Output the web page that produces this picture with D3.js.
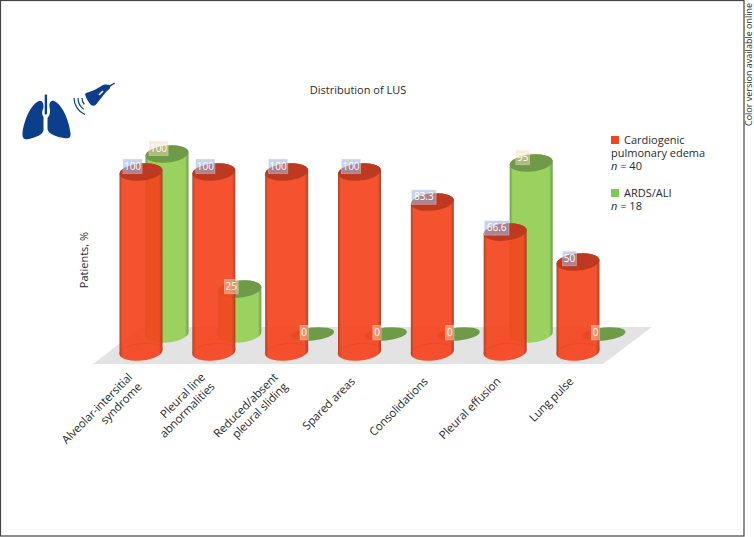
<!DOCTYPE html>
<html>
<head>
<meta charset="utf-8">
<script src="https://cdn.jsdelivr.net/npm/d3@7"></script>
<style>
  html, body { margin: 0; padding: 0; background: #fff; }
  text { font-family: "Open Sans", "Noto Sans", sans-serif; fill: #2b2b2b; }
</style>
</head>
<body>
<script>
const categories = [
  ["Alveolar-intersitial", "syndrome"],
  ["Pleural line", "abnormalities"],
  ["Reduced/absent", "pleural sliding"],
  ["Spared areas"],
  ["Consolidations"],
  ["Pleural effusion"],
  ["Lung pulse"]
];
const cardiogenic = [100, 100, 100, 100, 83.3, 66.6, 50];
const ards = [100, 25, 0, 0, 0, 95, 0];
const cardiogenicLabels = ["100", "100", "100", "100", "83.3", "66.6", "50"];
const ardsLabels = ["100", "25", "0", "0", "0", "95", "0"];
const legendCardiogenic = ["Cardiogenic", "pulmonary edema", "n = 40"];
const legendArds = ["ARDS/ALI", "n = 18"];

const width = 754;
const height = 537;

const svg = d3.select("body")
  .append("svg")
  .attr("width", width)
  .attr("height", height)
  .style("display", "block");

// Shading across the cylinders
const defs = svg.append("defs");
function addGradient(id, edge, mid) {
  const grad = defs.append("linearGradient").attr("id", id);
  grad.append("stop").attr("offset", "0%").attr("stop-color", edge);
  grad.append("stop").attr("offset", "7%").attr("stop-color", mid);
  grad.append("stop").attr("offset", "92%").attr("stop-color", mid);
  grad.append("stop").attr("offset", "100%").attr("stop-color", edge);
}
addGradient("red-body", "#a83218", "#f5431d");
addGradient("green-body", "#6f9a48", "#9ad15f");

// Scales
const x = d3.scalePoint()
  .domain(d3.range(categories.length))
  .range([141, 578]);
const yRed = d3.scaleLinear().domain([0, 100]).range([352, 172]);
const yGreen = d3.scaleLinear().domain([0, 100]).range([334, 154]);
const labelOffset = d3.scaleLinear().domain([0, 100]).range([-1.5, -6]);

const rx = 21.5;
const ry = 8.5;
const greenShift = 26;
// the ellipses lean up to the right
const tilt = -6;
const tiltDy = rx * Math.sin(tilt * Math.PI / 180);

// Frame
svg.append("rect")
  .attr("x", 0.5).attr("y", 0.5)
  .attr("width", 743.5).attr("height", 535.5)
  .attr("fill", "none")
  .attr("stroke", "#444")
  .attr("stroke-width", 1.2);

// Floor
svg.append("path")
  .attr("d", "M93,364 L141,327 L652,327 L603,364 Z")
  .attr("fill", "#e3e3e3");

function cylinderPath(cx, top, bottom) {
  const arc = " A" + rx + "," + ry + " " + tilt + " 0 0 ";
  return "M" + (cx - rx) + "," + (top - tiltDy) +
    " L" + (cx - rx) + "," + (bottom - tiltDy) +
    arc + (cx + rx) + "," + (bottom + tiltDy) +
    " L" + (cx + rx) + "," + (top + tiltDy) +
    arc + (cx - rx) + "," + (top - tiltDy) + " Z";
}

function drawSeries(values, y, shift, body, topColor, opacity) {
  const g = svg.append("g");
  values.forEach((v, i) => {
    const cx = x(i) + shift;
    if (v > 0) {
      g.append("path")
        .attr("d", cylinderPath(cx, y(v), y(0)))
        .attr("fill", "url(#" + body + ")")
        .attr("opacity", opacity);
    }
    g.append("ellipse")
      .attr("cx", cx)
      .attr("cy", y(v))
      .attr("rx", rx)
      .attr("ry", v > 0 ? ry : 6.5)
      .attr("transform", "rotate(" + tilt + " " + cx + " " + y(v) + ")")
      .attr("fill", topColor);
  });
}

drawSeries(ards, yGreen, greenShift, "green-body", "#6f9a48", 1);
drawSeries(cardiogenic, yRed, 0, "red-body", "#bd3a20", 0.92);

// Faint rim of the far side of the base, seen through the red cylinders
cardiogenic.forEach((v, i) => {
  svg.append("path")
    .attr("d", "M" + (x(i) - rx) + "," + (yRed(0) - tiltDy) +
      " A" + rx + "," + ry + " " + tilt + " 0 1 " + (x(i) + rx) + "," + (yRed(0) + tiltDy))
    .attr("fill", "none")
    .attr("stroke", "#e8401a")
    .attr("stroke-opacity", 0.6)
    .attr("stroke-width", 0.8);
});

// Value labels
function drawLabels(labels, values, y, shift, fill) {
  labels.forEach((label, i) => {
    const cx = x(i) + shift - 8.5;
    const cy = y(values[i]) + labelOffset(values[i]);
    const boxW = label.length * 5.4 + 3;
    svg.append("rect")
      .attr("x", cx - boxW / 2)
      .attr("y", cy - 7)
      .attr("width", boxW)
      .attr("height", 14.5)
      .attr("fill", fill)
      .attr("stroke", "#fff")
      .attr("stroke-opacity", 0.35)
      .attr("stroke-width", 0.8);
    svg.append("text")
      .attr("x", cx)
      .attr("y", cy + 3.6)
      .attr("text-anchor", "middle")
      .attr("font-size", 10)
      .style("fill", "#fff")
      .text(label);
  });
}
drawLabels(cardiogenicLabels, cardiogenic, yRed, 0, "rgba(160,182,222,0.6)");
drawLabels(ardsLabels, ards, yGreen, greenShift, "rgba(250,215,180,0.5)");

// Category labels, rotated
categories.forEach((lines, i) => {
  const t = svg.append("text")
    .attr("transform", "translate(" + (x(i) - 8) + ",378) rotate(-45)")
    .attr("text-anchor", "end")
    .attr("font-size", 11.5)
    .attr("letter-spacing", "-0.15");
  lines.forEach((line, j) => {
    t.append("tspan")
      .attr("x", 0)
      .attr("y", j * 13.5 + (lines.length === 1 ? 6 : 0))
      .text(line);
  });
});

// Title and axis label
svg.append("text")
  .attr("x", 358).attr("y", 94)
  .attr("text-anchor", "middle")
  .attr("font-size", 11)
  .text("Distribution of LUS");

svg.append("text")
  .attr("transform", "translate(88,260) rotate(-90)")
  .attr("text-anchor", "middle")
  .attr("font-size", 11)
  .text("Patients, %");

svg.append("text")
  .attr("transform", "translate(752,126) rotate(-90)")
  .attr("font-size", 9)
  .text("Color version available online");

// Legend
function legendLine(text, px, py) {
  const t = svg.append("text").attr("x", px).attr("y", py).attr("font-size", 11);
  if (text.startsWith("n =")) {
    t.append("tspan").attr("font-style", "italic").text("n");
    t.append("tspan").text(text.slice(1));
  } else {
    t.text(text);
  }
}
svg.append("rect").attr("x", 611).attr("y", 136).attr("width", 8).attr("height", 8).attr("fill", "#f5431d");
legendLine(legendCardiogenic[0], 624, 144);
legendLine(legendCardiogenic[1], 611, 157);
legendLine(legendCardiogenic[2], 611, 170);
svg.append("rect").attr("x", 611).attr("y", 189).attr("width", 8).attr("height", 8).attr("fill", "#7ccb55");
legendLine(legendArds[0], 624, 197);
legendLine(legendArds[1], 611, 210);

// Lungs and probe icon
const icon = svg.append("g").attr("fill", "#0b3f8c");
icon.append("path").attr("d", "M39,101 C31,104 24,120 22.5,133 C22,139 25,140 29,139 C36,137 43,135 43.5,130 L43.5,117 C41,113 42.5,110 43.5,108 C44,103 42,100 39,101 Z");
icon.append("path").attr("d", "M54,101 C62,104 69,120 70.5,133 C71,138 68,139 64,138 C57,137 48,134 47.5,129 L47.5,118 C51,114 50,110 49.5,107 C49,103 51,100 54,101 Z");
icon.append("rect").attr("x", 44.7).attr("y", 94.5).attr("width", 2.4).attr("height", 20).attr("rx", 1);
icon.append("path").attr("d", "M85,94 C87,92 90,92 92,91 C95,90 99,87 103,85 C106,84 108,85 110,85 L114.5,82.5 L115,83.5 L110.5,86.5 C110,89 108,90 106,92 L98,102 C96,105 94,107 91,105 C89,103 86,98 85,94 Z");
svg.append("path")
  .attr("d", "M99,95 L103,91")
  .attr("stroke", "#fff")
  .attr("stroke-width", 1.6);
[[10, 1.28], [14, 1.2], [18, 1.13]].forEach(([r, start]) => {
  svg.append("path")
    .attr("d", d3.arc()({ innerRadius: r - 0.6, outerRadius: r + 0.6, startAngle: Math.PI * start, endAngle: Math.PI * 1.5 }))
    .attr("transform", "translate(92,98)")
    .attr("fill", "#0b3f8c");
});
</script>
</body>
</html>
